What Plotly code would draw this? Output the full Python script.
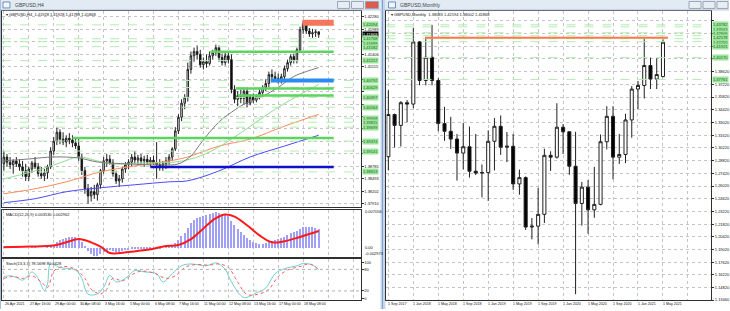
import plotly.graph_objects as go

# ---------------- H4 chart data ----------------
h4_bar = list(range(102))
h4_open = [1.3884,1.3900,1.3888,1.3882,1.3891,1.3884,1.3877,1.3868,1.3854,1.3872,
           1.3886,1.3877,1.3861,1.3856,1.3863,1.3877,1.3914,1.3937,1.3958,1.3942,
           1.3935,1.3944,1.3940,1.3933,1.3926,1.3900,1.3868,1.3826,1.3809,1.3819,
           1.3812,1.3835,1.3868,1.3891,1.3895,1.3886,1.3861,1.3844,1.3849,1.3872,
           1.3882,1.3888,1.3900,1.3893,1.3898,1.3891,1.3895,1.3888,1.3893,1.3886,
           1.3882,1.3877,1.3884,1.3891,1.3900,1.3919,1.3961,1.3993,1.4026,1.4040,
           1.4105,1.4137,1.4147,1.4140,1.4116,1.4123,1.4119,1.4137,1.4144,1.4156,
           1.4133,1.4121,1.4137,1.4128,1.4058,1.4035,1.4044,1.4037,1.4054,1.4026,
           1.4040,1.4033,1.4042,1.4051,1.4063,1.4072,1.4093,1.4088,1.4084,1.4079,
           1.4088,1.4107,1.4121,1.4135,1.4126,1.4151,1.4198,1.4212,1.4195,1.4188,
           1.4191,1.4193]
h4_high = [1.3914,1.3907,1.3900,1.3895,1.3900,1.3895,1.3891,1.3884,1.3877,1.3891,
           1.3900,1.3886,1.3877,1.3872,1.3882,1.3923,1.3947,1.3970,1.3965,1.3958,
           1.3951,1.3956,1.3951,1.3947,1.3942,1.3907,1.3877,1.3837,1.3830,1.3835,
           1.3840,1.3872,1.3900,1.3907,1.3905,1.3895,1.3868,1.3858,1.3877,1.3888,
           1.3895,1.3907,1.3914,1.3905,1.3907,1.3903,1.3905,1.3900,1.3903,1.3935,
           1.3895,1.3891,1.3900,1.3907,1.3923,1.3970,1.4000,1.4035,1.4047,1.4121,
           1.4147,1.4156,1.4161,1.4151,1.4133,1.4140,1.4147,1.4151,1.4163,1.4161,
           1.4142,1.4147,1.4144,1.4140,1.4068,1.4054,1.4058,1.4063,1.4063,1.4047,
           1.4049,1.4047,1.4058,1.4068,1.4082,1.4100,1.4105,1.4100,1.4095,1.4095,
           1.4114,1.4128,1.4140,1.4142,1.4156,1.4205,1.4219,1.4216,1.4202,1.4200,
           1.4198,1.4193]
h4_low = [1.3868,1.3877,1.3872,1.3861,1.3877,1.3868,1.3854,1.3844,1.3844,1.3863,
          1.3872,1.3854,1.3849,1.3844,1.3849,1.3872,1.3905,1.3928,1.3930,1.3928,
          1.3923,1.3930,1.3923,1.3919,1.3891,1.3858,1.3814,1.3791,1.3796,1.3802,
          1.3798,1.3826,1.3861,1.3877,1.3882,1.3854,1.3837,1.3830,1.3840,1.3863,
          1.3872,1.3879,1.3886,1.3882,1.3884,1.3877,1.3882,1.3877,1.3882,1.3849,
          1.3868,1.3868,1.3872,1.3882,1.3891,1.3914,1.3954,1.3984,1.4012,1.4030,
          1.4095,1.4123,1.4128,1.4109,1.4105,1.4109,1.4114,1.4128,1.4137,1.4123,
          1.4114,1.4114,1.4119,1.4049,1.4026,1.4019,1.4026,1.4023,1.4016,1.4021,
          1.4026,1.4028,1.4035,1.4044,1.4054,1.4063,1.4082,1.4077,1.4072,1.4072,
          1.4082,1.4100,1.4114,1.4119,1.4119,1.4147,1.4188,1.4188,1.4181,1.4179,
          1.4181,1.4179]
h4_close = [1.3900,1.3888,1.3882,1.3891,1.3884,1.3877,1.3868,1.3854,1.3872,1.3886,
            1.3877,1.3861,1.3856,1.3863,1.3877,1.3914,1.3937,1.3958,1.3942,1.3935,
            1.3944,1.3940,1.3933,1.3926,1.3900,1.3868,1.3826,1.3809,1.3819,1.3812,
            1.3835,1.3868,1.3891,1.3895,1.3886,1.3861,1.3844,1.3849,1.3872,1.3882,
            1.3888,1.3900,1.3893,1.3898,1.3891,1.3895,1.3888,1.3893,1.3886,1.3882,
            1.3877,1.3884,1.3891,1.3900,1.3919,1.3961,1.3993,1.4026,1.4040,1.4105,
            1.4137,1.4147,1.4140,1.4116,1.4123,1.4119,1.4137,1.4144,1.4156,1.4133,
            1.4121,1.4137,1.4128,1.4058,1.4035,1.4044,1.4037,1.4054,1.4026,1.4040,
            1.4033,1.4042,1.4051,1.4063,1.4072,1.4093,1.4088,1.4084,1.4079,1.4088,
            1.4107,1.4121,1.4135,1.4126,1.4151,1.4198,1.4212,1.4195,1.4188,1.4191,
            1.4193,1.4187]

# moving averages (bar, price)
ma_grey_x = [0, 8, 16, 24, 30, 40, 50, 56, 60, 63, 66, 70, 73, 77, 83, 88, 93, 97, 101]
ma_grey_y = [1.38909, 1.38955, 1.39002, 1.38978, 1.38885, 1.38839, 1.38816, 1.38839, 1.39025,
             1.39304, 1.39583, 1.39885, 1.40048, 1.40234, 1.40420, 1.40629, 1.40885, 1.41001, 1.41094]
ma_green_x = [0, 10, 18, 24, 30, 35, 45, 55, 60, 66, 73, 80, 87, 94, 101]
ma_green_y = [1.38490, 1.38676, 1.38862, 1.39002, 1.38909, 1.38839, 1.38862, 1.38885, 1.38955,
              1.39118, 1.39420, 1.39769, 1.40118, 1.40420, 1.40699]
ma_orange_x = [0, 10, 20, 31, 42, 53, 59, 69, 79, 90, 101]
ma_orange_y = [1.38141, 1.38258, 1.38420, 1.38653, 1.38792, 1.38909, 1.39002, 1.39257, 1.39420,
               1.39722, 1.40000]
ma_blue_x = [0, 10, 20, 31, 42, 53, 59, 69, 79, 90, 101]
ma_blue_y = [1.37932, 1.38025, 1.38188, 1.38281, 1.38351, 1.38420, 1.38444, 1.38676, 1.39002,
             1.39257, 1.39510]

# drawn objects on H4 (start bar, price)
green_lines_start = [66.3, 74.4, 75.0, 22.0]
green_lines_price = [1.41466, 1.40606, 1.40443, 1.39443]
blue_line_start, blue_line_price = 47.0, 1.38769
blue_box = (85.6, 1.40745, 1.40838)
red_box = (95.8, 1.42071, 1.42210)
obj_end = 105.8
h4_levels = [1.42094, 1.41768, 1.41699, 1.41582, 1.41257, 1.40792, 1.40629, 1.40397,
             1.40164, 1.39908, 1.39815, 1.39699, 1.39374, 1.39141, 1.38653]
h4_price_ticks = [1.42280, 1.41989, 1.41697, 1.41406, 1.41115, 1.40824, 1.40532, 1.40241,
                  1.39950, 1.39658, 1.39367, 1.39076, 1.38785, 1.38493, 1.38202, 1.37910]
h4_current = 1.41868
h4_date_bars = [0, 8, 16, 24, 32, 40, 48, 56, 64, 72, 80, 88, 96]
h4_date_text = ["26 Apr 2021", "27 Apr 16:00", "29 Apr 00:00", "30 Apr 08:00", "3 May 16:00",
                "5 May 00:00", "6 May 08:00", "7 May 16:00", "11 May 00:00", "12 May 08:00",
                "13 May 16:00", "17 May 00:00", "18 May 08:00"]

# MACD
macd_hist = [0.0001,0.0001,0.0001,0.0001,0.0001,0.0001,0.0000,0.0000,0.0000,0.0001,
             0.0001,0.0000,0.0000,0.0000,0.0001,0.0003,0.0005,0.0010,0.0014,0.0016,
             0.0018,0.0019,0.0019,0.0019,0.0017,0.0010,0.0001,-0.0007,-0.0012,-0.0015,
             -0.0016,-0.0013,-0.0009,-0.0006,-0.0005,-0.0006,-0.0008,-0.0008,-0.0006,-0.0005,
             -0.0004,-0.0003,-0.0002,-0.0002,-0.0001,-0.0001,-0.0001,-0.0001,0.0000,-0.0001,
             -0.0001,0.0000,0.0001,0.0002,0.0004,0.0008,0.0014,0.0021,0.0028,0.0037,
             0.0045,0.0051,0.0055,0.0057,0.0059,0.0061,0.0063,0.0064,0.0066,0.0065,
             0.0063,0.0061,0.0058,0.0050,0.0042,0.0035,0.0029,0.0024,0.0018,0.0014,
             0.0011,0.0008,0.0007,0.0007,0.0008,0.0011,0.0013,0.0014,0.0015,0.0017,
             0.0020,0.0023,0.0027,0.0029,0.0031,0.0035,0.0038,0.0038,0.0038,0.0038,
             0.0037,0.0035]
macd_sig_x = [0, 8, 16, 20, 24, 28, 31, 34, 40, 46, 52, 56, 60, 64, 68, 71, 74, 78, 82, 86, 90, 95, 101]
macd_sig_y = [0.0000, 0.0001, 0.0003, 0.0009, 0.0015, 0.0009, 0.0001, -0.0011, -0.0009, -0.0005,
              0.0002, 0.0004, 0.0015, 0.0035, 0.0054, 0.0061, 0.0057, 0.0041, 0.0022, 0.0009,
              0.0011, 0.0019, 0.0030]

# Stochastic
st_main_x = [0, 2, 4, 6, 8, 9, 11, 13, 14, 15, 18, 23, 25, 27, 30, 32, 34, 36, 39, 42, 45, 49, 51,
             54, 57, 60, 65, 68, 71, 73, 77, 81, 84, 87, 90, 94, 96, 99, 101]
st_main_y = [60, 62, 58, 50, 65, 73, 55, 21, 40, 95, 85, 78, 55, 11, 12, 30, 63, 45, 55, 77, 73, 68, 45,
             68, 90, 95, 90, 98, 80, 45, 2, 15, 28, 68, 82, 90, 96, 92, 78.6]
st_sig_x = [0, 3, 6, 9, 12, 14, 16, 19, 23, 26, 28, 31, 33, 35, 38, 41, 44, 48, 52, 55, 58, 61, 66,
            69, 72, 75, 78, 82, 85, 88, 91, 95, 98, 101]
st_sig_y = [55, 60, 55, 62, 45, 30, 75, 88, 80, 55, 25, 12, 25, 55, 48, 65, 75, 70, 55, 62, 85, 93, 92,
            95, 85, 45, 10, 12, 25, 60, 78, 88, 95, 80.3]

# ---------------- Monthly chart data (Sep 2017 .. May 2021) ----------------
mn_idx = list(range(45))
mn_open = [1.2925,1.3390,1.3270,1.3520,1.3505,1.4190,1.3765,1.4020,1.3765,1.3290,
           1.3205,1.3120,1.2965,1.3035,1.2765,1.2745,1.2750,1.3095,1.3260,1.3030,
           1.3040,1.2625,1.2695,1.2150,1.2160,1.2290,1.2940,1.2920,1.3250,1.3200,
           1.2820,1.2410,1.2590,1.2340,1.2400,1.3090,1.3370,1.2920,1.2950,1.3330,
           1.3670,1.3710,1.3930,1.3780,1.38083]
mn_high = [1.3657,1.3400,1.3537,1.3550,1.4345,1.4200,1.4245,1.4377,1.3790,1.3475,
           1.3364,1.3175,1.3299,1.3257,1.3175,1.2840,1.3215,1.3350,1.3380,1.3197,
           1.3176,1.2784,1.2708,1.2250,1.2582,1.3013,1.2985,1.3514,1.3285,1.3200,
           1.3200,1.2647,1.2667,1.2813,1.3170,1.3482,1.3482,1.3177,1.3398,1.3703,
           1.3760,1.4240,1.4017,1.4009,1.42194]
mn_low = [1.2774,1.3027,1.3038,1.3303,1.3460,1.3712,1.3711,1.3711,1.3205,1.3100,
          1.3010,1.2662,1.2785,1.2696,1.2723,1.2477,1.2438,1.2774,1.2945,1.2866,
          1.2559,1.2506,1.2119,1.2015,1.1959,1.2195,1.2768,1.2905,1.2954,1.2725,
          1.1410,1.2166,1.2076,1.2252,1.2390,1.3005,1.2676,1.2846,1.2855,1.3135,
          1.3451,1.3566,1.3671,1.3670,1.38002]
mn_close = [1.3390,1.3270,1.3520,1.3505,1.4190,1.3765,1.4020,1.3765,1.3290,1.3205,
            1.3120,1.2965,1.3035,1.2765,1.2745,1.2750,1.3095,1.3260,1.3030,1.3040,
            1.2625,1.2695,1.2150,1.2160,1.2290,1.2940,1.2920,1.3250,1.3200,1.2820,
            1.2410,1.2590,1.2340,1.2400,1.3090,1.3370,1.2920,1.2950,1.3330,1.3670,
            1.3710,1.3930,1.3780,1.3830,1.41868]
mn_red_line = (5.9, 44.8, 1.4235)
mn_levels = [1.43782, 1.43563, 1.42906, 1.42578, 1.42250, 1.41921, 1.40170, 1.37761]
mn_price_ticks = [1.44220, 1.42820, 1.41420, 1.40020, 1.38620, 1.37220, 1.35820, 1.34420,
                  1.33020, 1.31620, 1.30220, 1.28820, 1.27420, 1.26020, 1.24620, 1.23220,
                  1.21820, 1.20420, 1.19020, 1.17620, 1.16220, 1.14820, 1.13460]
mn_date_idx = [0, 4, 8, 12, 16, 20, 24, 28, 32, 36, 40, 44]
mn_date_text = ["1 Sep 2017", "1 Jan 2018", "1 May 2018", "1 Sep 2018", "1 Jan 2019", "1 May 2019",
                "1 Sep 2019", "1 Jan 2020", "1 May 2020", "1 Sep 2020", "1 Jan 2021", "1 May 2021"]

# ---------------- layout helpers ----------------
W, H = 730, 311
def X(px): return px / W
def Y(py): return 1 - py / H

FONT = "Liberation Sans"
GRID = dict(showgrid=True, gridcolor="#c4c4c4", griddash="dot", gridwidth=1)

H4_TOP, H4_BOT, H4_RNG = 11, 208, (1.37839, 1.42419)
MN_TOP, MN_BOT, MN_RNG = 11, 302, (1.1346, 1.4531)

def to_px(v, top, bot, rng):
    return top + (rng[1] - v) / (rng[1] - rng[0]) * (bot - top)

def spread(items, gap):
    """items: list of (px, payload) -> push labels apart so they do not overlap"""
    items = sorted(items, key=lambda t: t[0])
    out = []
    for px, p in items:
        if out and px < out[-1][0] + gap:
            px = out[-1][0] + gap
        out.append((px, p))
    return out

fig = go.Figure()

candle_style = dict(
    increasing=dict(line=dict(color="#202020", width=1), fillcolor="white"),
    decreasing=dict(line=dict(color="#202020", width=1), fillcolor="black"),
    whiskerwidth=0, showlegend=False, hoverinfo="skip")

fig.add_trace(go.Candlestick(x=h4_bar, open=h4_open, high=h4_high, low=h4_low, close=h4_close,
                             xaxis="x", yaxis="y", **candle_style))
for xs, ys, col in [(ma_blue_x, ma_blue_y, "#4a4aff"), (ma_orange_x, ma_orange_y, "#ff8a5c"),
                    (ma_green_x, ma_green_y, "#8fdc8f"), (ma_grey_x, ma_grey_y, "#7a7a7a")]:
    fig.add_trace(go.Scatter(x=xs, y=ys, mode="lines", line=dict(color=col, width=1, shape="spline"),
                             xaxis="x", yaxis="y", showlegend=False, hoverinfo="skip"))

fig.add_trace(go.Bar(x=h4_bar, y=macd_hist, width=0.4, marker=dict(color="#a0a0f6", line=dict(width=0)),
                     xaxis="x2", yaxis="y2", showlegend=False, hoverinfo="skip"))
fig.add_trace(go.Scatter(x=macd_sig_x, y=macd_sig_y, mode="lines",
                         line=dict(color="#ff1a1a", width=2, shape="spline"),
                         xaxis="x2", yaxis="y2", showlegend=False, hoverinfo="skip"))

fig.add_trace(go.Scatter(x=st_main_x, y=st_main_y, mode="lines",
                         line=dict(color="#6fcfcf", width=1, shape="spline"),
                         xaxis="x3", yaxis="y3", showlegend=False, hoverinfo="skip"))
fig.add_trace(go.Scatter(x=st_sig_x, y=st_sig_y, mode="lines",
                         line=dict(color="#ff5a5a", width=1, dash="dot", shape="spline"),
                         xaxis="x3", yaxis="y3", showlegend=False, hoverinfo="skip"))

fig.add_trace(go.Candlestick(x=mn_idx, open=mn_open, high=mn_high, low=mn_low, close=mn_close,
                             xaxis="x4", yaxis="y4", **candle_style))

shapes = []
annotations = []
small = dict(family=FONT, size=4, color="#111")

# window chrome
shapes += [
    dict(type="rect", xref="paper", yref="paper", x0=0, x1=X(381), y0=Y(10), y1=1,
         fillcolor="#e2eaf4", line=dict(width=0), layer="below"),
    dict(type="rect", xref="paper", yref="paper", x0=X(386), x1=1, y0=Y(10), y1=1,
         fillcolor="#e2eaf4", line=dict(width=0), layer="below"),
    dict(type="rect", xref="paper", yref="paper", x0=X(381), x1=X(386), y0=0, y1=1,
         fillcolor="#c7d7eb", line=dict(width=0), layer="below"),
    dict(type="line", xref="paper", yref="paper", x0=X(383), x1=X(383), y0=0, y1=1,
         line=dict(color="#7f9fca", width=1)),
    dict(type="line", xref="paper", yref="paper", x0=X(0.5), x1=X(0.5), y0=0, y1=1,
         line=dict(color="#a9bdd8", width=1)),
    dict(type="line", xref="paper", yref="paper", x0=0, x1=1, y0=Y(10), y1=Y(10),
         line=dict(color="#b7c7db", width=1)),
]
for x0, x1 in [(3, 10), (389, 396)]:
    shapes.append(dict(type="rect", xref="paper", yref="paper", x0=X(x0), x1=X(x1), y0=Y(8), y1=Y(2),
                       fillcolor="#f2f6fb", line=dict(color="#6f8fbf", width=1)))
for x0, x1, col in [(338, 350, "#e9eef4"), (352, 364, "#e9eef4"), (366, 379, "#dc5a4e"),
                    (690, 702, "#e9eef4"), (704, 716, "#e9eef4"), (718, 729, "#e9eef4")]:
    shapes.append(dict(type="rect", xref="paper", yref="paper", x0=X(x0), x1=X(x1), y0=Y(8.5), y1=Y(1.5),
                       fillcolor=col, line=dict(color="#9aa6b6", width=1)))
annotations += [
    dict(text="GBPUSD,H4", x=X(13), y=Y(5), xref="paper", yref="paper", xanchor="left", yanchor="middle",
         showarrow=False, font=dict(family=FONT, size=5, color="#444")),
    dict(text="GBPUSD,Monthly", x=X(399), y=Y(5), xref="paper", yref="paper", xanchor="left",
         yanchor="middle", showarrow=False, font=dict(family=FONT, size=5, color="#444")),
    dict(text="▾ GBPUSD,H4  1.41928 1.41928 1.41788 1.41868", x=X(4), y=Y(15), xref="paper",
         yref="paper", xanchor="left", yanchor="middle", showarrow=False, font=small),
    dict(text="▾ GBPUSD,Monthly  1.38083 1.42194 1.38002 1.41868", x=X(390), y=Y(15), xref="paper",
         yref="paper", xanchor="left", yanchor="middle", showarrow=False, font=small),
    dict(text="MACD(12,26,9) 0.003530 0.002962", x=X(4), y=Y(216), xref="paper", yref="paper",
         xanchor="left", yanchor="middle", showarrow=False, font=small),
    dict(text="Stoch(13,3,3) 78.5698 80.3428", x=X(4), y=Y(265), xref="paper", yref="paper",
         xanchor="left", yanchor="middle", showarrow=False, font=small),
]
for txt, py in [("0.007056", 213), ("0.00", 249), ("-0.002973", 255.5)]:
    annotations.append(dict(text=txt, x=X(363), y=Y(py), xref="paper", yref="paper", xanchor="left",
                            yanchor="middle", showarrow=False, font=small))

# level lines (dashed light green) + their labels on the price scale
GAP = 4.4
for v in h4_levels:
    shapes.append(dict(type="line", xref="x domain", yref="y", x0=0, x1=1, y0=v, y1=v,
                       line=dict(color="#b4ecb4", width=1, dash="dash")))
h4_lab = [(to_px(v, H4_TOP, H4_BOT, H4_RNG), ("lvl", v)) for v in h4_levels]
h4_lab.append((to_px(h4_current, H4_TOP, H4_BOT, H4_RNG), ("cur", h4_current)))
h4_lab = spread(h4_lab, GAP)
for px, (kind, v) in h4_lab:
    annotations.append(dict(text=f"{v:.5f}", x=X(362), y=Y(px), xref="paper", yref="paper",
                            xanchor="left", yanchor="middle", showarrow=False, borderpad=0,
                            bgcolor="#000" if kind == "cur" else "#9ae69a",
                            font=dict(family=FONT, size=4, color="#fff" if kind == "cur" else "#2a5a2a")))
h4_box_px = [p for p, _ in h4_lab]
h4_ticktext = [("" if any(abs(to_px(t, H4_TOP, H4_BOT, H4_RNG) - b) < GAP for b in h4_box_px)
                else f"{t:.5f}") for t in h4_price_ticks]

for v in mn_levels:
    shapes.append(dict(type="line", xref="x4 domain", yref="y4", x0=0, x1=1, y0=v, y1=v,
                       line=dict(color="#b4ecb4", width=1, dash="dash")))
mn_lab = spread([(to_px(v, MN_TOP, MN_BOT, MN_RNG), v) for v in mn_levels], GAP)
for px, v in mn_lab:
    annotations.append(dict(text=f"{v:.5f}", x=X(713), y=Y(px), xref="paper", yref="paper",
                            xanchor="left", yanchor="middle", showarrow=False, bgcolor="#9ae69a",
                            borderpad=0, font=dict(family=FONT, size=4, color="#2a5a2a")))
mn_box_px = [p for p, _ in mn_lab]
mn_ticktext = [("" if any(abs(to_px(t, MN_TOP, MN_BOT, MN_RNG) - b) < GAP for b in mn_box_px)
                else f"{t:.5f}") for t in mn_price_ticks]

# drawn objects
for s, v in zip(green_lines_start, green_lines_price):
    shapes.append(dict(type="line", xref="x", yref="y", x0=s, x1=obj_end, y0=v, y1=v,
                       line=dict(color="#5ed35e", width=2.5), layer="above"))
shapes.append(dict(type="line", xref="x", yref="y", x0=blue_line_start, x1=obj_end, y0=blue_line_price,
                   y1=blue_line_price, line=dict(color="#1010c8", width=2.5), layer="above"))
shapes.append(dict(type="rect", xref="x", yref="y", x0=blue_box[0], x1=obj_end, y0=blue_box[1],
                   y1=blue_box[2], fillcolor="#2a8cf0", line=dict(width=0), layer="above"))
shapes.append(dict(type="rect", xref="x", yref="y", x0=red_box[0], x1=obj_end, y0=red_box[1],
                   y1=red_box[2], fillcolor="#f5765a", line=dict(width=0), layer="above"))
shapes.append(dict(type="line", xref="x4", yref="y4", x0=mn_red_line[0], x1=mn_red_line[1],
                   y0=mn_red_line[2], y1=mn_red_line[2], line=dict(color="#ff7848", width=2)))
for lv in [20, 80]:
    shapes.append(dict(type="line", xref="x3 domain", yref="y3", x0=0, x1=1, y0=lv, y1=lv,
                       line=dict(color="#b0b0b0", width=1, dash="dot")))

# date labels (left-aligned at their bar, as in the terminal)
date_font = dict(family=FONT, size=3.6, color="#111")
for b, t in zip(h4_date_bars, h4_date_text):
    annotations.append(dict(text=t, x=b, y=Y(306), xref="x3", yref="paper", xanchor="left",
                            yanchor="middle", showarrow=False, xshift=-1, font=date_font))
for m, t in zip(mn_date_idx, mn_date_text):
    annotations.append(dict(text=t, x=m, y=Y(306), xref="x4", yref="paper", xanchor="left",
                            yanchor="middle", showarrow=False, xshift=-2, font=date_font))

xl = dict(domain=[X(2), X(361)], tickvals=list(range(0, 113, 8)),
          showticklabels=False, zeroline=False, showline=True, linecolor="#303030", linewidth=1,
          mirror=True, ticks="", rangeslider=dict(visible=False), fixedrange=True, **GRID)
yfont = dict(family=FONT, size=4, color="#111")

fig.update_layout(
    width=W, height=H, margin=dict(l=0, r=0, t=0, b=0),
    paper_bgcolor="white", plot_bgcolor="white", showlegend=False,
    bargap=0, boxgap=0.3,
    xaxis=dict(anchor="y", range=[-0.6, 114.4], **xl),
    xaxis2=dict(anchor="y2", matches="x", **xl),
    xaxis3=dict(anchor="y3", matches="x", **xl),
    yaxis=dict(anchor="x", domain=[Y(H4_BOT), Y(H4_TOP)], range=list(H4_RNG), side="right",
               tickvals=h4_price_ticks, ticktext=h4_ticktext,
               tickfont=yfont, ticks="outside", ticklen=2, tickcolor="#303030", zeroline=False,
               showline=True, linecolor="#303030", mirror=True, fixedrange=True, **GRID),
    yaxis2=dict(anchor="x2", domain=[Y(259), Y(211)], range=[-0.0019, 0.0070], side="right",
                showticklabels=False, ticks="", showgrid=False, zeroline=False,
                showline=True, linecolor="#303030", mirror=True, fixedrange=True),
    yaxis3=dict(anchor="x3", domain=[Y(302), Y(261)], range=[-5.3, 107.9], side="right",
                tickvals=[0, 20, 80, 100], ticktext=["0", "20", "80", "100"], tickfont=yfont,
                ticks="outside", ticklen=2, tickcolor="#303030", showgrid=False, zeroline=False,
                showline=True, linecolor="#303030", mirror=True, fixedrange=True),
    xaxis4=dict(anchor="y4", domain=[X(387), X(712)], range=[-0.3, 51.7],
                tickvals=list(range(0, 52, 4)), showticklabels=False, zeroline=False, showline=True,
                linecolor="#303030", mirror=True, ticks="", rangeslider=dict(visible=False),
                fixedrange=True, **GRID),
    yaxis4=dict(anchor="x4", domain=[Y(MN_BOT), Y(MN_TOP)], range=list(MN_RNG), side="right",
                tickvals=mn_price_ticks, ticktext=mn_ticktext,
                tickfont=yfont, ticks="outside", ticklen=2, tickcolor="#303030", zeroline=False,
                showline=True, linecolor="#303030", mirror=True, fixedrange=True, **GRID),
    shapes=shapes, annotations=annotations,
)

fig.write_html("out.html", config={"displayModeBar": False})
